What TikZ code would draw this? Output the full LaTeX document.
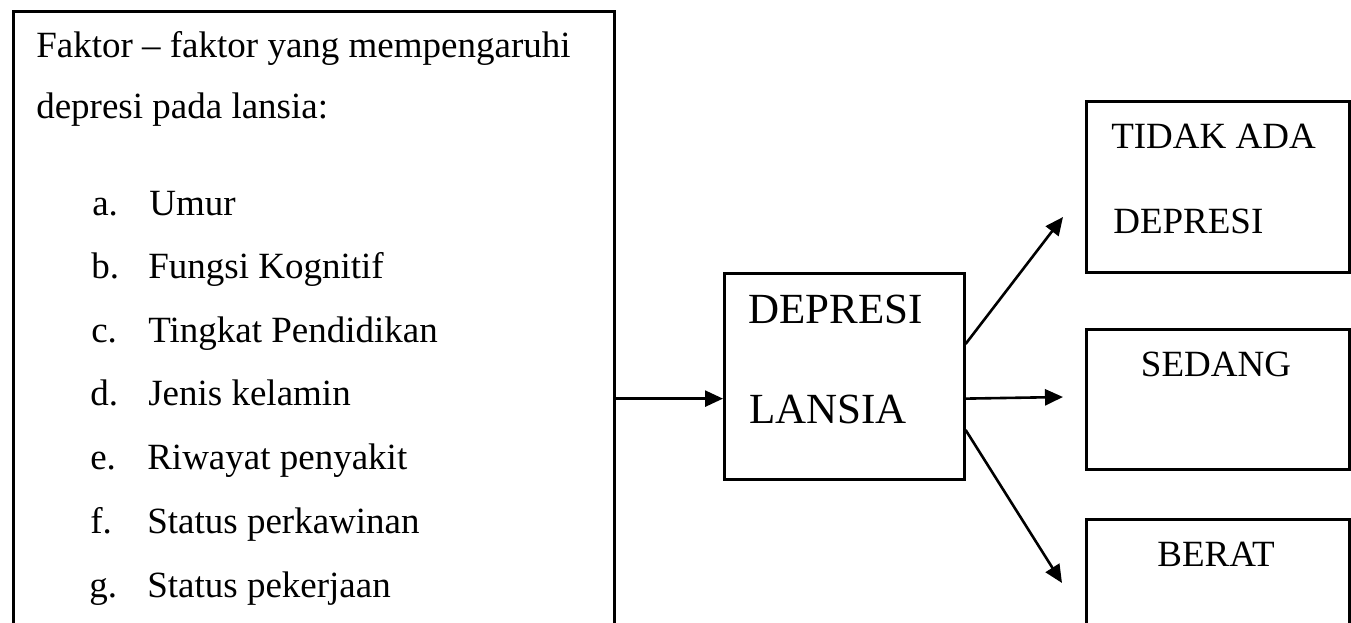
\documentclass[tikz,border=0pt]{standalone}
\usepackage{fontspec}
\setmainfont{Liberation Serif}
\usetikzlibrary{arrows.meta,calc,positioning}

\begin{document}
\begin{tikzpicture}[x=0.5pt,y=-0.5pt,line width=1.3pt,>={Triangle[length=9pt,width=8pt]}]
  \tikzstyle{box} = [draw,line width=1.3pt,rectangle,anchor=north west,inner sep=0pt]
  \tikzstyle{txt} = [anchor=base west,inner sep=0pt,font=\fontsize{18.5}{22}\selectfont]
  \tikzstyle{big} = [txt,font=\fontsize{21.5}{26}\selectfont]
  \tikzstyle{mid} = [txt,anchor=base]
  \useasboundingbox (0,0) rectangle (1351,622);
  \clip (0,0) rectangle (1351,622);

  % left box with the factors
  \node [box,minimum width=300.5pt,minimum height=325pt] (faktor) at (12,10) {};
  \node [txt] (judul1) at (35,57) {Faktor -- faktor yang mempengaruhi};
  \node [txt] (judul2) at (35,118) {depresi pada lansia:};
  \node [txt] (la) at (91,215) {a.};
  \node [txt] (ia) at (148,215) {Umur};
  \node [txt] (lb) at (90,278) {b.};
  \node [txt] (ib) at (147,278) {Fungsi Kognitif};
  \node [txt] (lc) at (90,342) {c.};
  \node [txt] (ic) at (147,342) {Tingkat Pendidikan};
  \node [txt] (ld) at (89,405) {d.};
  \node [txt] (id) at (147,405) {Jenis kelamin};
  \node [txt] (le) at (89,469) {e.};
  \node [txt] (ie) at (146,469) {Riwayat penyakit};
  \node [txt] (lf) at (89,533) {f.};
  \node [txt] (if) at (146,533) {Status perkawinan};
  \node [txt] (lg) at (88,597) {g.};
  \node [txt] (ig) at (146,597) {Status pekerjaan};

  % middle box
  \node [box,minimum width=120pt,minimum height=103pt] (lansia) at (723,272) {};
  \node [big] (lansia1) at (747,323) {DEPRESI};
  \node [big] (lansia2) at (748,423) {LANSIA};

  % result boxes
  \node [box,minimum width=131.5pt,minimum height=85.5pt] (tidak) at (1085,100) {};
  \node [txt] (tidak1) at (1110,148) {TIDAK ADA};
  \node [txt] (tidak2) at (1112,233) {DEPRESI};
  \node [box,minimum width=131.5pt,minimum height=70pt] (sedang) at (1085,328) {};
  \node [mid] (sedang1) at (1216,376) {SEDANG};
  \node [box,minimum width=131.5pt,minimum height=70pt] (berat) at (1085,518) {};
  \node [mid] (berat1) at (1216,566) {BERAT};

  % arrows
  \coordinate (masuk) at ($(lansia.north west)!.607!(lansia.south west)$);
  \coordinate (keluar1) at ($(lansia.north east)!.345!(lansia.south east)$);
  \coordinate (keluar2) at ($(lansia.north east)!.607!(lansia.south east)$);
  \coordinate (keluar3) at ($(lansia.north east)!.757!(lansia.south east)$);
  \coordinate (ujung1) at (1063,217);
  \coordinate (ujung2) at (1063,397);
  \coordinate (ujung3) at (1062,583);
  \draw [->] (faktor.east |- masuk) -- (masuk);
  \draw [->] (keluar1) -- (ujung1);
  \draw [->] (keluar2) -- (ujung2);
  \draw [->] (keluar3) -- (ujung3);
\end{tikzpicture}
\end{document}
